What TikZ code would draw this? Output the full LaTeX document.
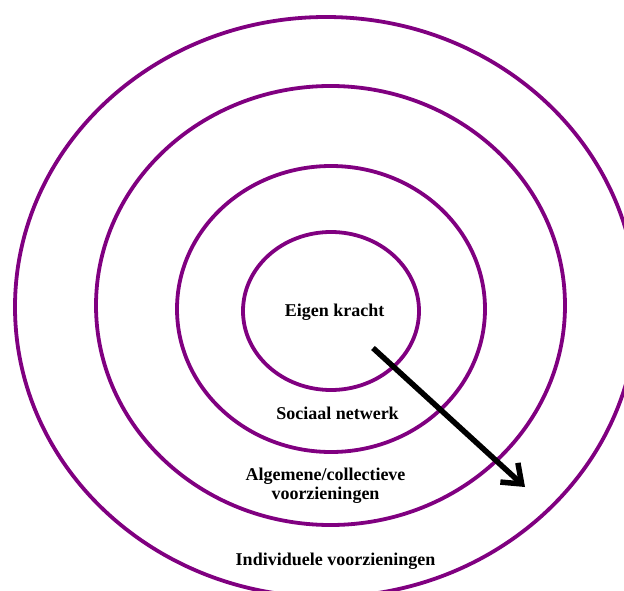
\documentclass[tikz,border=0pt]{standalone}
\usepackage{fontspec}
\setmainfont{Liberation Serif}
\usetikzlibrary{arrows.meta}
\definecolor{ringpurple}{RGB}{128,0,128}
\begin{document}
\begin{tikzpicture}[x=1pt,y=-1pt,
  ring/.style={draw=ringpurple, line width=3.8pt},
  lbl/.style={font=\fontsize{18}{19}\selectfont\bfseries, inner sep=0pt, align=center},
  arr/.style={line width=5.5pt, -{Straight Barb[length=17pt,width=26pt]}}]
\useasboundingbox (0,0) rectangle (624,591);
\clip (0,0) rectangle (624,591);
% rings
\draw[ring] (326,307) ellipse [x radius=311, y radius=290];
\draw[ring] (330.5,305.5) ellipse [x radius=234.5, y radius=219.5];
\draw[ring] (331,309) ellipse [x radius=154, y radius=143];
\draw[ring] (331,311) ellipse [x radius=88, y radius=79];
% labels
\node[lbl, anchor=base] (eigen) at (334.5,316) {Eigen kracht};
\node[lbl, anchor=base] (sociaal) at (337.5,419) {Sociaal netwerk};
\node[lbl, anchor=center] (algemeen) at (325.5,486) {Algemene/collectieve\\voorzieningen};
\node[lbl, anchor=base] (individueel) at (335.5,565) {Individuele voorzieningen};
% arrow
\coordinate (arrstart) at (373,348);
\coordinate (arrend) at (525,487);
\draw[arr] (arrstart) -- (arrend);
\end{tikzpicture}
\end{document}
